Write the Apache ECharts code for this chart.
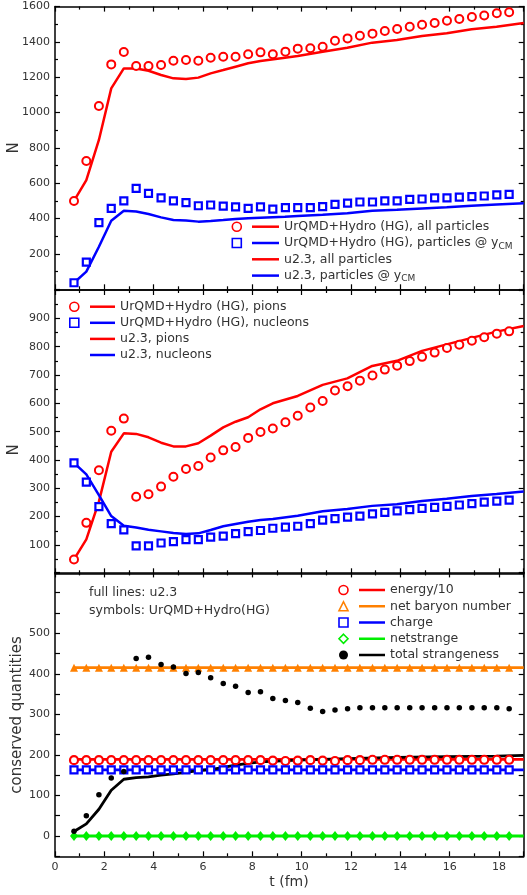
<!DOCTYPE html>
<html>
<head>
<meta charset="utf-8">
<script src="https://cdn.jsdelivr.net/npm/echarts@6/dist/echarts.min.js"></script>
<style>
html,body{margin:0;padding:0;background:#fff;}
#main{width:527px;height:895px;}
</style>
</head>
<body>
<div id="main"></div>
<script>
// ---- data ----
const tSym = [0.77,1.27,1.78,2.28,2.79,3.29,3.79,4.30,4.80,5.31,5.81,6.31,6.82,7.32,7.83,8.33,8.83,9.34,9.84,10.35,10.85,11.35,11.86,12.36,12.87,13.37,13.87,14.38,14.88,15.39,15.89,16.39,16.90,17.40,17.91,18.41];

// panel 1
const p1AllSym = [500,726,1037,1273,1343,1264,1264,1269,1294,1298,1294,1311,1316,1316,1330,1341,1330,1345,1362,1364,1373,1407,1420,1435,1447,1462,1473,1486,1497,1507,1520,1530,1541,1550,1562,1568];
const p1CmSym = [37,154,377,458,500,571,543,518,500,490,473,477,471,466,458,466,454,462,462,462,468,481,488,494,494,501,501,509,511,517,517,522,524,528,534,537];
const p1LineT = [0.77,1.27,1.78,2.28,2.79,3.29,3.79,4.30,4.80,5.31,5.81,6.31,6.82,7.32,7.83,8.33,9.32,9.84,10.85,11.85,12.86,13.86,14.88,15.88,16.89,17.90,19.0];
const p1AllLine = [500,618,845,1137,1250,1250,1237,1213,1194,1190,1198,1222,1241,1260,1279,1292,1311,1320,1345,1367,1396,1411,1434,1449,1472,1486,1507];
const p1CmLine = [37,100,241,388,445,440,426,407,392,389,383,387,392,398,402,405,411,415,422,430,445,450,458,465,473,480,487];

// panel 2
const p2PionSym = [49,178,364,503,546,270,279,306,341,368,379,409,434,446,478,499,511,533,556,585,608,645,660,680,698,719,733,749,764,779,795,807,821,833,846,854];
const p2NucSym = [390,322,235,175,153,97,97,107,112,119,119,128,131,140,147,151,159,163,166,175,188,193,198,202,210,215,220,225,229,233,236,241,246,251,255,258];
const p2LineT = [0.77,1.27,1.78,2.28,2.79,3.29,3.79,4.30,4.80,5.31,5.81,6.31,6.82,7.32,7.83,8.33,8.83,9.84,10.85,11.85,12.86,13.86,14.88,15.88,16.89,17.90,19.0];
const p2PionLine = [49,120,253,429,494,492,480,461,448,448,459,486,515,535,551,579,600,626,665,688,732,750,785,808,831,853,873];
const p2NucLine = [390,349,276,202,168,162,154,148,142,139,141,153,166,174,182,188,192,203,219,227,238,244,255,263,273,280,289];

// panel 3
const energySym = [187,187,187,187,187,187,187,187,187,187,187,187,187,187,187,187,186,185,186,187,186,185,187,187,188,188,188,188,188,188,188,188,188,188,188,188];
const baryonSym = [415,415,415,415,415,415,415,415,415,415,415,415,415,415,415,415,415,415,415,415,415,415,415,415,415,415,415,415,415,415,415,415,415,415,415,415];
const chargeSym = [163,163,163,163,163,163,163,163,163,163,163,163,163,163,163,163,163,163,163,163,163,163,163,163,163,163,163,163,163,163,163,163,163,163,163,163];
const netsSym = [0,0,0,0,0,0,0,0,0,0,0,0,0,0,0,0,0,0,0,0,0,0,0,0,0,0,0,0,0,0,0,0,0,0,0,0];
const strangeSym = [12,50,102,143,159,438,441,423,417,401,403,390,376,369,354,356,339,334,329,315,307,311,314,316,316,316,316,316,316,316,316,316,316,316,316,314];
const constLineT = [0.77,19.0];
const energyLine = [189,189];
const baryonLine = [415,415];
const chargeLine = [163,163];
const netsLine = [0,0];
const strangeLineT = [0.77,1.27,1.78,2.28,2.79,3.29,3.79,4.30,4.80,5.31,5.81,6.31,6.82,7.32,7.83,8.33,9.84,11.85,13.86,15.88,17.90,19.0];
const strangeLine = [11,30,66,113,140,144,146,150,153,157,161,164,169,175,179,183,187,191,194,196,197,199];

const xTicks = [0,2,4,6,8,10,12,14,16,18];

// ---- helpers ----
const FONT = 'DejaVu Sans';
const TXT = '#333';
const RED = '#ff0000', BLUE = '#0000ff', ORANGE = '#ff8000', GREEN = '#00ee00', BLACK = '#000000';
const pairs = (xs, ys) => xs.map((x, i) => [x, ys[i]]);

function xAx(g, pos, showLabel) {
  return {
    type: 'value', gridIndex: g, position: pos, min: 0, max: 19, interval: 2,
    axisLine: { show: true, onZero: false, lineStyle: { color: '#000', width: 1.5 } },
    axisTick: { show: true, inside: true, length: 5, lineStyle: { color: '#000', width: 1.2 } },
    minorTick: { show: true, splitNumber: 2, length: 3, lineStyle: { color: '#000', width: 1.2 } },
    splitLine: { show: false }, minorSplitLine: { show: false },
    axisLabel: {
      show: showLabel, margin: 5, color: TXT, fontFamily: FONT, fontSize: 11,
      formatter: v => (xTicks.indexOf(v) >= 0 ? String(v) : '')
    }
  };
}
function yAx(g, pos, min, max, interval, minorSplit, showLabel, fmt) {
  return {
    type: 'value', gridIndex: g, position: pos, min: min, max: max, interval: interval,
    axisLine: { show: true, onZero: false, lineStyle: { color: '#000', width: 1.5 } },
    axisTick: { show: true, inside: true, length: 5, lineStyle: { color: '#000', width: 1.2 } },
    minorTick: { show: minorSplit > 0, splitNumber: minorSplit || 2, length: 3, lineStyle: { color: '#000', width: 1.2 } },
    splitLine: { show: false }, minorSplitLine: { show: false },
    axisLabel: { show: showLabel, margin: 5, color: TXT, fontFamily: FONT, fontSize: 11, formatter: fmt }
  };
}
function lineS(name, g, xs, ys, color, width) {
  return { type: 'line', name: name, xAxisIndex: 2 * g, yAxisIndex: 2 * g, data: pairs(xs, ys),
    symbol: 'none', smooth: false, lineStyle: { color: color, width: width }, itemStyle: { color: color },
    z: 2, silent: true, animation: false };
}
function symS(name, g, xs, ys, symbol, size, fill, stroke, bw) {
  return { type: 'scatter', name: name, xAxisIndex: 2 * g, yAxisIndex: 2 * g, data: pairs(xs, ys),
    symbol: symbol, symbolSize: size,
    itemStyle: { color: fill, borderColor: stroke, borderWidth: bw, opacity: 1 },
    z: 3, silent: true, animation: false };
}

const N1 = 'UrQMD+Hydro (HG), all particles';
const N2 = 'UrQMD+Hydro (HG), particles @ yCM';
const N3 = 'u2.3, all particles';
const N4 = 'u2.3, particles @ yCM';
const M1 = 'UrQMD+Hydro (HG), pions';
const M2 = 'UrQMD+Hydro (HG), nucleons';
const M3 = 'u2.3, pions';
const M4 = 'u2.3, nucleons';
const Q = ['energy/10', 'net baryon number', 'charge', 'netstrange', 'total strangeness'];

const legTxt = {
  fontFamily: FONT, fontSize: 12.5, color: TXT, lineHeight: 16,
  rich: { s: { fontFamily: FONT, fontSize: 9, color: TXT, lineHeight: 16, verticalAlign: 'bottom' } }
};
function lineLegend(left, top, w, gap, data) {
  return { show: true, orient: 'vertical', left: left, top: top, padding: 0, itemGap: gap,
    itemWidth: w, itemHeight: 2.5, icon: 'rect', selectedMode: false, textStyle: legTxt,
    formatter: n => n.replace('yCM', 'y{s|CM}'), data: data };
}
function symLegend(left, top, gap, data) {
  return { show: true, orient: 'vertical', left: left, top: top, padding: 0, itemGap: gap,
    itemWidth: 9, itemHeight: 9, selectedMode: false,
    textStyle: { fontFamily: FONT, fontSize: 12.5, lineHeight: 16, color: TXT },
    formatter: () => ' ', data: data };
}
const openStyle = c => ({ color: 'rgba(255,255,255,0)', borderColor: c, borderWidth: 1.6 });

const option = {
  animation: false,
  backgroundColor: '#ffffff',
  grid: [
    { left: 55, right: 3.3, top: 6.6, height: 282.7 },
    { left: 55, right: 3.3, top: 290, height: 283.3 },
    { left: 55, right: 3.3, top: 572.4, height: 283.9 }
  ],
  xAxis: [
    xAx(0, 'bottom', false), xAx(0, 'top', false),
    xAx(1, 'bottom', false), xAx(1, 'top', false),
    xAx(2, 'bottom', true), xAx(2, 'top', false)
  ],
  yAxis: [
    yAx(0, 'left', 0, 1600, 200, 2, true, v => (v === 0 ? '' : String(v))),
    yAx(0, 'right', 0, 1600, 200, 2, false),
    yAx(1, 'left', 0, 1000, 100, 2, true, v => (v === 0 || v === 1000 ? '' : String(v))),
    yAx(1, 'right', 0, 1000, 100, 2, false),
    yAx(2, 'left', -50, 650, 50, 0, true, v => ((v % 100 === 0 && v >= 0 && v <= 500) ? String(v) : '')),
    yAx(2, 'right', -50, 650, 50, 0, false)
  ],
  legend: [
    lineLegend(252, 218.7, 27, 0.3, [
      { name: N1, itemStyle: { color: RED, borderWidth: 0 } },
      { name: N2, itemStyle: { color: BLUE, borderWidth: 0 } },
      { name: N3 }, { name: N4 }
    ]),
    symLegend(231.5, 218.7, 0.3, [
      { name: N1, icon: 'circle', itemStyle: openStyle(RED) },
      { name: N2, icon: 'rect', itemStyle: openStyle(BLUE) }
    ]),
    lineLegend(90, 298.7, 25, 0.1, [
      { name: M1, itemStyle: { color: RED, borderWidth: 0 } },
      { name: M2, itemStyle: { color: BLUE, borderWidth: 0 } },
      { name: M3 }, { name: M4 }
    ]),
    symLegend(69, 298.7, 0.1, [
      { name: M1, icon: 'circle', itemStyle: openStyle(RED) },
      { name: M2, icon: 'rect', itemStyle: openStyle(BLUE) }
    ]),
    lineLegend(359, 582, 26, 0.25, Q.map(q => ({ name: q }))),
    symLegend(338.2, 582, 0.25, [
      { name: 'sym ' + Q[0], icon: 'circle', itemStyle: openStyle(RED) },
      { name: 'sym ' + Q[1], icon: 'triangle', itemStyle: openStyle(ORANGE) },
      { name: 'sym ' + Q[2], icon: 'rect', itemStyle: openStyle(BLUE) },
      { name: 'sym ' + Q[3], icon: 'diamond', itemStyle: openStyle(GREEN) },
      { name: 'sym ' + Q[4], icon: 'circle', itemStyle: { color: BLACK, borderWidth: 0 } }
    ])
  ],
  graphic: [
    { type: 'text', x: 14, y: 148, rotation: Math.PI / 2,
      style: { text: 'N', font: '15px "DejaVu Sans"', fill: TXT, textAlign: 'center', textVerticalAlign: 'middle' } },
    { type: 'text', x: 14, y: 450, rotation: Math.PI / 2,
      style: { text: 'N', font: '15px "DejaVu Sans"', fill: TXT, textAlign: 'center', textVerticalAlign: 'middle' } },
    { type: 'text', x: 17, y: 715, rotation: Math.PI / 2,
      style: { text: 'conserved quantities', font: '15px "DejaVu Sans"', fill: TXT, textAlign: 'center', textVerticalAlign: 'middle' } },
    { type: 'text', x: 289, y: 882,
      style: { text: 't (fm)', font: '14px "DejaVu Sans"', fill: TXT, textAlign: 'center', textVerticalAlign: 'middle' } },
    { type: 'text', x: 89, y: 593,
      style: { text: 'full lines: u2.3', font: '12.5px "DejaVu Sans"', fill: TXT, textAlign: 'left', textVerticalAlign: 'middle' } },
    { type: 'text', x: 89, y: 611,
      style: { text: 'symbols: UrQMD+Hydro(HG)', font: '12.5px "DejaVu Sans"', fill: TXT, textAlign: 'left', textVerticalAlign: 'middle' } }
  ],
  series: [
    // panel 1
    lineS(N3, 0, p1LineT, p1AllLine, RED, 2.5),
    lineS(N4, 0, p1LineT, p1CmLine, BLUE, 2.5),
    symS(N1, 0, tSym, p1AllSym, 'circle', 8, '#ffffff', RED, 2),
    symS(N2, 0, tSym, p1CmSym, 'rect', 7, '#ffffff', BLUE, 2.2),
    // panel 2
    lineS(M3, 1, p2LineT, p2PionLine, RED, 2.5),
    lineS(M4, 1, p2LineT, p2NucLine, BLUE, 2.5),
    symS(M1, 1, tSym, p2PionSym, 'circle', 8, '#ffffff', RED, 2),
    symS(M2, 1, tSym, p2NucSym, 'rect', 7, '#ffffff', BLUE, 2.2),
    // panel 3
    lineS(Q[0], 2, constLineT, energyLine, RED, 2.8),
    lineS(Q[1], 2, constLineT, baryonLine, ORANGE, 2.8),
    lineS(Q[2], 2, constLineT, chargeLine, BLUE, 2.8),
    lineS(Q[3], 2, constLineT, netsLine, GREEN, 2.8),
    lineS(Q[4], 2, strangeLineT, strangeLine, BLACK, 2.8),
    symS('sym ' + Q[0], 2, tSym, energySym, 'circle', 8, '#ffffff', RED, 2.2),
    symS('sym ' + Q[1], 2, tSym, baryonSym, 'triangle', 8, ORANGE, ORANGE, 0),
    symS('sym ' + Q[2], 2, tSym, chargeSym, 'rect', 7, '#ffffff', BLUE, 2.2),
    symS('sym ' + Q[3], 2, tSym, netsSym, 'diamond', [8, 10], GREEN, GREEN, 0),
    symS('sym ' + Q[4], 2, tSym, strangeSym, 'circle', 5.5, BLACK, BLACK, 0)
  ]
};

const chart = echarts.init(document.getElementById('main'), null, { renderer: 'canvas' });
chart.setOption(option);
</script>
</body>
</html>
